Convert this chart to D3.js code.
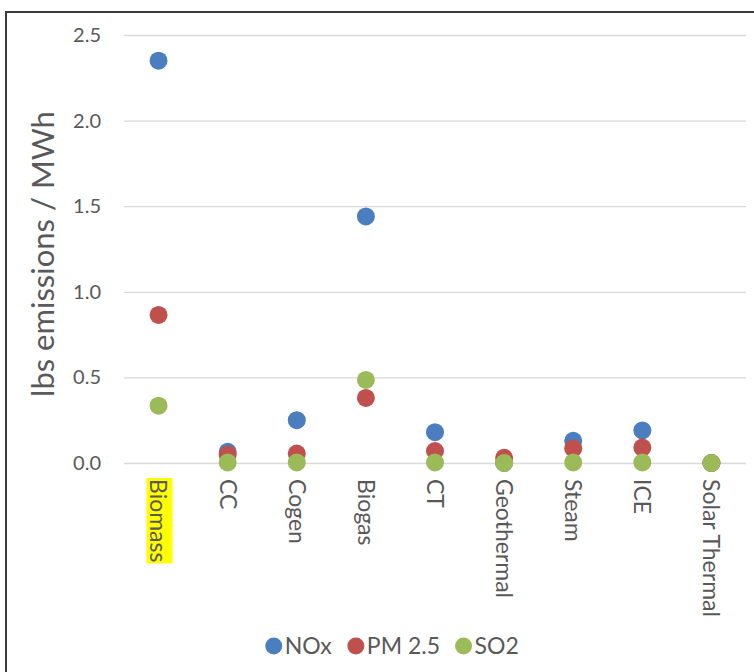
<!DOCTYPE html>
<html><head><meta charset="utf-8">
<script src="https://cdn.jsdelivr.net/npm/d3@7"></script>
<style>
body{margin:0;background:#fff;}
svg{display:block;font-family:Lato,"Open Sans",sans-serif;}
</style></head>
<body><svg id="c" width="754" height="672"></svg>
<script>
const categories = ["Biomass","CC","Cogen","Biogas","CT","Geothermal","Steam","ICE","Solar Thermal"];
const seriesNames = ["NOx","PM 2.5","SO2"];
const seriesColors = ["#4a7ebf","#c0504d","#9bbb59"];
const noxValues = [2.35,0.065,0.25,1.44,0.18,0.0,0.13,0.19,0.0];
const pm25Values = [0.865,0.05,0.055,0.38,0.07,0.03,0.085,0.09,0.0];
const so2Values = [0.335,0.003,0.003,0.485,0.003,0.0,0.003,0.003,0.0];
const yTicks = [0,0.5,1.0,1.5,2.0,2.5];
const highlighted = ["Biomass"];

const series = [noxValues, pm25Values, so2Values];
const svg = d3.select("#c");
const textColor = "#595959";

// frame
svg.append("path").attr("d","M6,672 V12 H754").attr("fill","none").attr("stroke","#3a3a3a").attr("stroke-width",2);

const x = d3.scaleBand().domain(categories).range([124,746]);
const y = d3.scaleLinear().domain([0,2.5]).range([463,35]);

// gridlines
const yAxis = d3.axisLeft(y).tickValues(yTicks).tickFormat(d3.format(".1f")).tickSize(-(746-124)).tickPadding(23);
const gy = svg.append("g").attr("transform","translate(124,0)").call(yAxis);
gy.select(".domain").remove();
gy.selectAll(".tick line").attr("stroke","#d9d9d9").attr("stroke-width",1.3);
gy.selectAll(".tick text").attr("fill",textColor).style("font-size","20px").attr("font-family","Lato,'Open Sans',sans-serif");

// x axis labels
const xAxis = d3.axisBottom(x).tickSize(0).tickPadding(0);
const gx = svg.append("g").attr("transform","translate(0,463)").call(xAxis);
gx.select(".domain").remove();
gx.selectAll(".tick text")
  .attr("fill",textColor).style("font-size","23px").attr("font-family","Lato,'Open Sans',sans-serif")
  .attr("text-anchor","start").attr("dy","0.35em")
  .attr("transform","translate(0,16) rotate(90)").attr("x",0).attr("y",0);
// highlight
gx.selectAll(".tick").each(function(d){
  if(highlighted.includes(d)){
    const t = d3.select(this).select("text");
    const bb = t.node().getBBox();
    d3.select(this).insert("rect","text")
      .attr("transform","translate(0,16) rotate(90)")
      .attr("x",bb.x-1).attr("y",bb.y+1).attr("width",bb.width+2).attr("height",bb.height-2)
      .attr("fill","#ffff00");
  }
});

// y title
svg.append("text").attr("transform","translate(43,254) rotate(-90)")
  .attr("text-anchor","middle").attr("dy","0.35em")
  .attr("fill",textColor).style("font-size","31px").text("lbs emissions / MWh");

// points
series.forEach((vals,i)=>{
  svg.append("g").selectAll("circle").data(vals).join("circle")
    .attr("cx",(d,j)=>x(categories[j])+x.bandwidth()/2)
    .attr("cy",d=>y(d))
    .attr("r",9)
    .attr("fill",seriesColors[i]);
});

// legend
const legendItems = seriesNames.map((n,i)=>({n,c:seriesColors[i]}));
const lg = svg.append("g").attr("transform","translate(0,646)");
const items = lg.selectAll("g").data(legendItems).join("g");
items.append("circle").attr("r",8.5).attr("cx",0).attr("cy",0).attr("fill",d=>d.c);
items.append("text").attr("x",11).attr("dy","0.35em").attr("fill",textColor).style("font-size","23px").text(d=>d.n);
const widths=[];
items.each(function(){widths.push(this.getBBox().width);});
const gap = 15;
const total = d3.sum(widths)+gap*(widths.length-1);
let cur = 392 - total/2 + 8.5;
items.attr("transform",(d,i)=>{const t=`translate(${cur},0)`; cur+=widths[i]+gap; return t;});
</script></body></html>
